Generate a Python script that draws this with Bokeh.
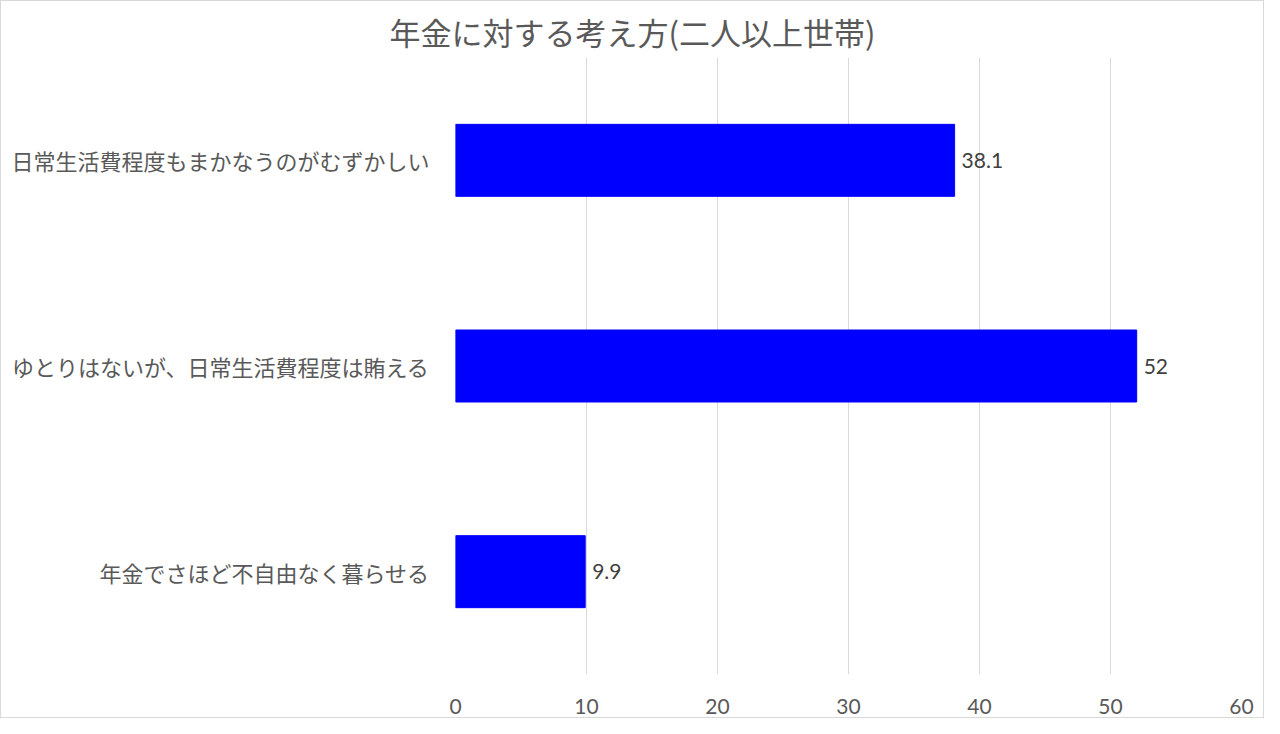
from bokeh.plotting import figure
from bokeh.models import ColumnDataSource, Range1d, FactorRange, FixedTicker, LabelSet
from bokeh.core.properties import value
from bokeh.embed import file_html
from bokeh.resources import INLINE

# ---- data ----
categories = [
    "日常生活費程度もまかなうのがむずかしい",
    "ゆとりはないが、日常生活費程度は賄える",
    "年金でさほど不自由なく暮らせる",
]
values = [38.1, 52, 9.9]
value_labels = ["38.1", "52", "9.9"]
x_ticks = [0, 10, 20, 30, 40, 50, 60]
title_text = "年金に対する考え方(二人以上世帯)"

JP = "Noto Sans CJK JP"
NUM = "Lato"
GRAY = "#595959"

src = ColumnDataSource(dict(cat=categories, val=values, lab=value_labels))

p = figure(
    width=1264, height=718,
    y_range=FactorRange(factors=list(reversed(categories)), range_padding=0),
    x_range=Range1d(0, 60),
    output_backend="svg", toolbar_location=None,
    min_border_left=454, min_border_right=24,
    min_border_top=56, min_border_bottom=45,
)
p.styles = {"border": "1px solid #d9d9d9"}

p.title.text = title_text
p.title.align = "left"
p.title.offset = -66
p.title.text_font = JP
p.title.text_font_size = "31px"
p.title.text_font_style = "normal"
p.title.text_color = GRAY
p.title.standoff = 8

p.hbar(y="cat", right="val", left=0, height=0.35, source=src,
       fill_color="#0000FF", line_color="#0000FF")

labels = LabelSet(x="val", y="cat", text="lab", source=src, x_offset=7,
                  text_baseline="middle", text_align="left",
                  text_font=value(NUM), text_font_size=value("21px"),
                  text_color=value("#404040"))
p.add_layout(labels)

p.xaxis.ticker = FixedTicker(ticks=x_ticks)
p.xaxis.axis_line_color = None
p.xaxis.major_tick_line_color = None
p.xaxis.minor_tick_line_color = None
p.xaxis.major_label_text_font = NUM
p.xaxis.major_label_text_font_size = "21px"
p.xaxis.major_label_text_color = GRAY
p.xaxis.major_label_standoff = 18

p.yaxis.axis_line_color = None
p.yaxis.major_tick_line_color = None
p.yaxis.minor_tick_line_color = None
p.yaxis.major_label_text_font = JP
p.yaxis.major_label_text_font_size = "22px"
p.yaxis.major_label_text_color = GRAY
p.yaxis.major_label_standoff = 20

p.xgrid.ticker = FixedTicker(ticks=x_ticks)
p.xgrid.grid_line_color = "#d9d9d9"
p.xgrid.grid_line_width = 1
p.ygrid.grid_line_color = None
p.outline_line_color = None

open("out.html", "w").write(file_html(p, INLINE))
